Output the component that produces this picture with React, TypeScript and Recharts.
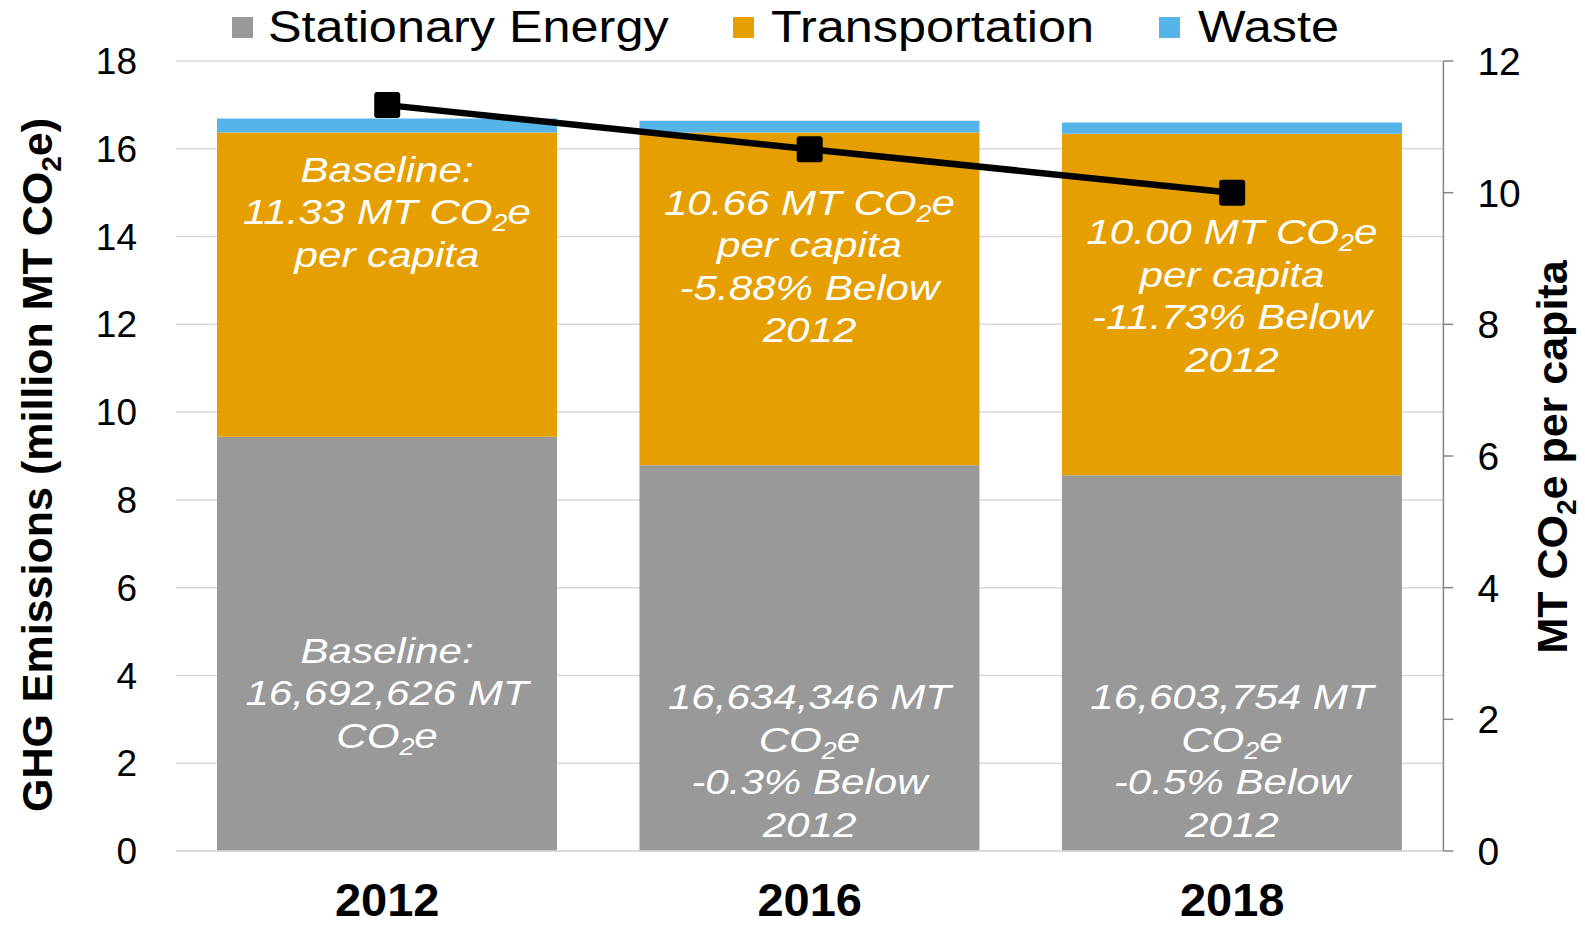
import React from "react";
import {
  ComposedChart,
  Bar,
  Line,
  XAxis,
  YAxis,
  CartesianGrid,
  Legend,
  LabelList,
} from "recharts";

// ---------- data ----------
const years = ["2012", "2016", "2018"];
const stationaryEnergy = [9.44, 8.79, 8.56];
const transportation = [6.93, 7.58, 7.78];
const waste = [0.32, 0.27, 0.26];
const perCapita = [11.33, 10.66, 10.0];
const leftTicks = [0, 2, 4, 6, 8, 10, 12, 14, 16, 18];
const rightTicks = [0, 2, 4, 6, 8, 10, 12];

const transportLabels = [
  ["Baseline:", "11.33 MT CO₂e", "per capita"],
  ["10.66 MT CO₂e", "per capita", "-5.88% Below", "2012"],
  ["10.00 MT CO₂e", "per capita", "-11.73% Below", "2012"],
];
const transportLabelAt = [15.54, 14.78, 14.11];
const stationaryLabels = [
  ["Baseline:", "16,692,626 MT", "CO₂e"],
  ["16,634,346 MT", "CO₂e", "-0.3% Below", "2012"],
  ["16,603,754 MT", "CO₂e", "-0.5% Below", "2012"],
];
const stationaryLabelAt = [4.58, 3.52, 3.52];

const seriesNames = ["Stationary Energy", "Transportation", "Waste"];
const seriesColors = ["#999999", "#E5A000", "#56B4E8"];

const data = years.map((year, i) => ({
  year,
  stationary: stationaryEnergy[i],
  transportation: transportation[i],
  waste: waste[i],
  perCapita: perCapita[i],
}));

// ---------- style ----------
const FONT = '"Liberation Sans", Arial, Helvetica, sans-serif';
const LINE_GAP = 42.5;

function rich(s: string, subSize: number, shift: number) {
  const parts = s.split("₂");
  if (parts.length === 1) return s;
  return [
    <tspan key="a">{parts[0]}</tspan>,
    <tspan key="b" fontSize={subSize} dy={shift}>
      2
    </tspan>,
    <tspan key="c" dy={-shift}>
      {parts[1]}
    </tspan>,
  ];
}

const makeLabelContent =
  (lines: string[][], anchors: number[], values: number[], bases: number[]) =>
  (props: any) => {
    const { x, y, width, height, index } = props;
    const h = Number(height);
    const ppu = h / values[index];
    const zeroY = Number(y) + h + bases[index] * ppu;
    const cx = Number(x) + Number(width) / 2;
    const cy0 = zeroY - anchors[index] * ppu;
    return (
      <g>
        {lines[index].map((l, k) => (
          <text
            key={k}
            transform={`translate(${cx},${cy0 + k * LINE_GAP}) scale(1.17,1)`}
            textAnchor="middle"
            dy="0.35em"
            fill="#ffffff"
            fontStyle="italic"
            fontFamily={FONT}
            fontSize={36}
          >
            {rich(l, 23, 7)}
          </text>
        ))}
      </g>
    );
  };

const zeros = years.map(() => 0);

const SquareDot = (props: any) => {
  const { cx, cy } = props;
  if (cx == null || cy == null) return null;
  return <rect x={cx - 13} y={cy - 13} width={26} height={26} rx={3} fill="#000" />;
};

const legendPositions = [
  { sq: 232, tx: 268 },
  { sq: 733, tx: 771 },
  { sq: 1159, tx: 1198 },
];

const LegendContent = () => (
  <div style={{ position: "relative", width: 1585, height: 56, fontFamily: FONT }}>
    {seriesNames.map((n, i) => (
      <React.Fragment key={n}>
        <div
          style={{
            position: "absolute",
            left: legendPositions[i].sq,
            top: 17,
            width: 21,
            height: 21,
            background: seriesColors[i],
          }}
        />
        <div
          style={{
            position: "absolute",
            left: legendPositions[i].tx,
            top: 1,
            fontSize: 45,
            lineHeight: "52px",
            color: "#000",
            whiteSpace: "nowrap",
            transform: "scaleX(1.12)",
            transformOrigin: "left center",
          }}
        >
          {n}
        </div>
      </React.Fragment>
    ))}
  </div>
);

export default function App() {
  return (
    <div style={{ position: "absolute", left: 0, top: 0, width: 1585, height: 925, background: "#fff" }}>
      <ComposedChart
        width={1585}
        height={925}
        data={data}
        margin={{ top: 61, right: 0, bottom: 0, left: 0 }}
        style={{ fontFamily: FONT }}
      >
        <CartesianGrid vertical={false} stroke="#d9d9d9" strokeWidth={1.5} yAxisId="left" />
        <XAxis
          dataKey="year"
          height={74}
          axisLine={{ stroke: "#d9d9d9", strokeWidth: 1.5 }}
          tickLine={false}
          tickSize={0}
          tickMargin={32}
          tick={{ fontSize: 47, fontWeight: "bold", fill: "#000", fontFamily: FONT }}
        />
        <YAxis
          yAxisId="left"
          width={176}
          domain={[0, 18]}
          ticks={leftTicks}
          axisLine={false}
          tickLine={false}
          tickSize={0}
          tickMargin={39}
          tick={{ fontSize: 37, fill: "#000", fontFamily: FONT }}
          label={{
            content: () => (
              <text
                transform="translate(37,465) rotate(-90)"
                textAnchor="middle"
                dy="0.35em"
                fontSize={43}
                fontWeight="bold"
                fontFamily={FONT}
                fill="#000"
              >
                {rich("GHG Emissions (million MT CO₂e)", 28, 9)}
              </text>
            ),
          }}
        />
        <YAxis
          yAxisId="right"
          orientation="right"
          width={141.6}
          domain={[0, 12]}
          ticks={rightTicks}
          axisLine={{ stroke: "#868686", strokeWidth: 1.5 }}
          tickLine={{ stroke: "#868686", strokeWidth: 1.5 }}
          tickSize={10}
          tickMargin={24}
          tick={{ fontSize: 39, fill: "#000", fontFamily: FONT }}
          label={{
            content: () => (
              <text
                transform="translate(1552,457) rotate(-90)"
                textAnchor="middle"
                dy="0.35em"
                fontSize={43}
                fontWeight="bold"
                fontFamily={FONT}
                fill="#000"
              >
                {rich("MT CO₂e per capita", 28, 9)}
              </text>
            ),
          }}
        />
        <Legend
          layout="horizontal"
          verticalAlign="middle"
          align="center"
          wrapperStyle={{ left: 0, top: 0, width: 1585 }}
          content={LegendContent}
        />
        <Bar
          yAxisId="left"
          dataKey="stationary"
          name={seriesNames[0]}
          stackId="a"
          fill={seriesColors[0]}
          barSize={340}
          isAnimationActive={false}
        >
          <LabelList
            dataKey="stationary"
            content={makeLabelContent(stationaryLabels, stationaryLabelAt, stationaryEnergy, zeros)}
          />
        </Bar>
        <Bar
          yAxisId="left"
          dataKey="transportation"
          name={seriesNames[1]}
          stackId="a"
          fill={seriesColors[1]}
          barSize={340}
          isAnimationActive={false}
        >
          <LabelList
            dataKey="transportation"
            content={makeLabelContent(transportLabels, transportLabelAt, transportation, stationaryEnergy)}
          />
        </Bar>
        <Bar
          yAxisId="left"
          dataKey="waste"
          name={seriesNames[2]}
          stackId="a"
          fill={seriesColors[2]}
          barSize={340}
          isAnimationActive={false}
        />
        <Line
          yAxisId="right"
          dataKey="perCapita"
          stroke="#000"
          strokeWidth={6.5}
          dot={<SquareDot />}
          activeDot={false}
          isAnimationActive={false}
          legendType="none"
        />
      </ComposedChart>
    </div>
  );
}
